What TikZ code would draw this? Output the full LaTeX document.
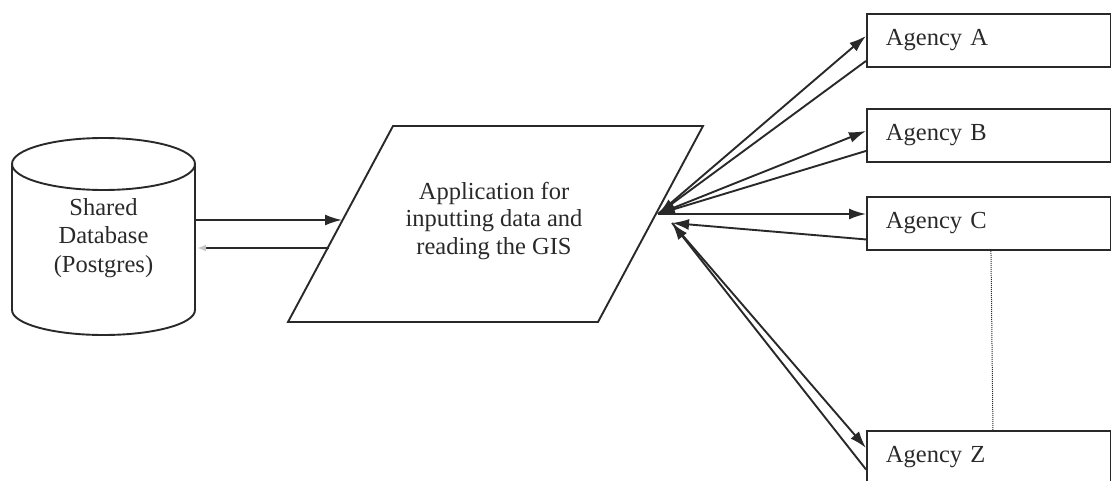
\documentclass[tikz,border=0pt]{standalone}
\usepackage{fontspec}
\setmainfont{Liberation Serif}
\usetikzlibrary{arrows.meta}
\definecolor{ink}{gray}{0.16}
\tikzset{
  base/.style={line width=1.9pt, draw=ink},
  arr/.style={base, -{Latex[length=17pt,width=11pt]}},
  agency/.style={base, rectangle, anchor=north west, minimum height=53pt,
    text width=206pt, inner xsep=19pt, inner ysep=0pt, align=left,
    text=ink, font=\fontsize{24.5}{28}\selectfont},
  lbl/.style={align=center, text=ink, font=\fontsize{24.5}{27.5}\selectfont, inner sep=0pt}
}
\begin{document}
\begin{tikzpicture}[x=1pt,y=-1pt]
\useasboundingbox (0,0) rectangle (1111,481);
\clip (0,0) rectangle (1111,481);
% cylinder
\draw[base] (103.5,164) ellipse[x radius=91.5, y radius=26];
\draw[base] (12,164) -- (12,310) arc[start angle=180, end angle=0, x radius=91.5, y radius=25] -- (195,164);
\node[lbl, font=\fontsize{24.5}{28.5}\selectfont] (db) at (103.5,238) {Shared\\Database\\(Postgres)};
\coordinate (dbin) at (195,220);
\coordinate (dbout) at (197,248);
% parallelogram
\draw[base] (393,126) -- (703,126) -- (598,322) -- (288,322) -- cycle;
\node[lbl] (app) at (494,221) {Application for\\inputting data and\\reading the GIS};
\coordinate (appin) at (342,220);
\coordinate (appout) at (329,248);
\coordinate (h1) at (658,214);
\coordinate (h2) at (672,223);
% agencies
\node[agency] (A) at (866,13) {Agency A};
\node[agency] (B) at (866,108) {Agency B};
\node[agency] (C) at (866,196) {Agency C};
\node[agency] (Z) at (866,430) {Agency Z};
% db <-> app
\draw[arr] (dbin) -- (appin);
\draw[base, -{Latex[length=9pt,width=7pt,color=gray!45]}] (appout) -- (dbout);
% hub <-> agencies
\draw[arr] (h1) -- ([yshift=4.5pt]A.west);
\draw[arr] ([yshift=-20.5pt]A.west) -- (h1);
\draw[arr] (h1) -- ([yshift=4.5pt]B.west);
\draw[arr] ([yshift=-15.5pt]B.west) -- (h1);
\draw[arr] (h1) -- (C.west |- h1);
\draw[arr] ([yshift=-16pt]C.west) -- (h2);
\draw[arr] (h2) -- ([yshift=9.5pt]Z.west);
\draw[arr] ([yshift=-12pt]Z.west) -- (h2);
% dotted link
\draw[densely dotted, line width=1pt, draw=ink] ([xshift=2pt]C.south) -- ([xshift=4pt]Z.north);
\end{tikzpicture}
\end{document}
